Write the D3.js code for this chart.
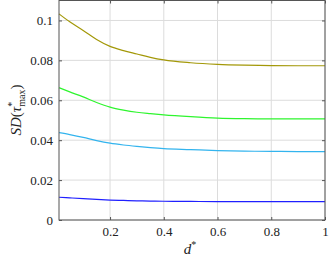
<!DOCTYPE html>
<html><head><meta charset="utf-8">
<script src="https://cdn.jsdelivr.net/npm/d3@7"></script>
<style>body{margin:0;background:#fff}svg{display:block}</style>
</head><body><svg id="c" width="333" height="260"></svg>
<script>
const xs = [0.01, 0.05, 0.1, 0.15, 0.2, 0.25, 0.3, 0.35, 0.4, 0.5, 0.6, 0.7, 0.8, 0.9, 1.0];
const olive = [0.1033, 0.0993, 0.0950, 0.0905, 0.0870, 0.0849, 0.0832, 0.0815, 0.0802, 0.0788, 0.0780, 0.0776, 0.0774, 0.0773, 0.0773];
const green = [0.0663, 0.0642, 0.0617, 0.0589, 0.0566, 0.0551, 0.0540, 0.0533, 0.0527, 0.0518, 0.0511, 0.0508, 0.0507, 0.0507, 0.0507];
const cyan  = [0.0438, 0.0428, 0.0414, 0.0398, 0.0385, 0.0376, 0.0369, 0.0363, 0.0358, 0.0353, 0.0348, 0.0345, 0.0344, 0.0343, 0.0343];
const blue  = [0.0114, 0.0111, 0.0107, 0.0103, 0.0100, 0.0098, 0.0096, 0.0095, 0.0094, 0.0093, 0.0092, 0.0092, 0.0092, 0.0092, 0.0092];
const xTicks = [0.2, 0.4, 0.6, 0.8, 1];
const yTicks = [0, 0.02, 0.04, 0.06, 0.08, 0.1];
const series = [
  {vals: olive, color: "#a39808"},
  {vals: green, color: "#2ef52e"},
  {vals: cyan,  color: "#33b4ee"},
  {vals: blue,  color: "#2020ff"}
];

const FONT = '"Liberation Serif"';
const svg = d3.select("#c").style("font-family", FONT);
const L = 59, R = 325, T = 0.5, B = 220;
const x = d3.scaleLinear().domain([0.01, 1]).range([L, R]);
const y = d3.scaleLinear().domain([0, 0.11]).range([B, T]);

const g = svg.append("g");
g.selectAll(".gx").data(xTicks).enter().append("line")
  .attr("x1", d => x(d)).attr("x2", d => x(d)).attr("y1", T).attr("y2", B)
  .attr("stroke", "#dcdcdc").attr("stroke-width", 1);
g.selectAll(".gy").data(yTicks).enter().append("line")
  .attr("x1", L).attr("x2", R).attr("y1", d => y(d)).attr("y2", d => y(d))
  .attr("stroke", "#dcdcdc").attr("stroke-width", 1);

const line = d3.line().x((d, i) => x(xs[i])).y(d => y(d)).curve(d3.curveMonotoneX);
series.forEach(s => {
  g.append("path").attr("d", line(s.vals)).attr("fill", "none")
    .attr("stroke", s.color).attr("stroke-width", 1.2);
});

const ax = g.append("g").attr("transform", `translate(0,${B})`)
  .call(d3.axisBottom(x).tickValues(xTicks).tickSize(-3).tickPadding(7).tickFormat(d3.format("")));
const ay = g.append("g").attr("transform", `translate(${L},0)`)
  .call(d3.axisLeft(y).tickValues(yTicks).tickSize(-3).tickPadding(6).tickFormat(d => d === 0 ? "0" : d3.format("")(d)));
const axT = g.append("g").attr("transform", `translate(0,${T})`)
  .call(d3.axisTop(x).tickValues(xTicks).tickSize(-3).tickFormat(""));
const ayR = g.append("g").attr("transform", `translate(${R},0)`)
  .call(d3.axisRight(y).tickValues(yTicks).tickSize(-3).tickFormat(""));
[ax, ay, axT, ayR].forEach(a => {
  a.attr("font-family", "Liberation Serif").style("font-family", FONT);
  a.select(".domain").remove();
  a.selectAll("line").attr("stroke", "#555");
  a.selectAll("text").style("font-family", FONT).style("font-size", "13px").attr("fill", "#222");
});
g.append("rect").attr("x", L).attr("y", T).attr("width", R - L).attr("height", B - T)
  .attr("fill", "none").attr("stroke", "#555").attr("stroke-width", 1);

const xl = svg.append("text").attr("x", 190).attr("y", 254).attr("text-anchor", "middle")
  .style("font-family", FONT).style("font-size", "15px").attr("fill", "#222");
xl.append("tspan").style("font-style", "italic").text("d");
xl.append("tspan").attr("dy", -6).style("font-size", "10px").text("*");
const yl = svg.append("text").attr("transform", "translate(21,110) rotate(-90)").attr("text-anchor", "middle")
  .style("font-family", FONT).style("font-size", "15px").attr("fill", "#222");
yl.append("tspan").style("font-style", "italic").text("SD");
yl.append("tspan").text("(");
yl.append("tspan").style("font-style", "italic").text("τ");
yl.append("tspan").style("font-size", "10px").attr("dy", -6).text("*");
yl.append("tspan").style("font-size", "10px").attr("dy", 10).attr("dx", -5).text("max");
yl.append("tspan").attr("dy", -4).text(")");
</script></body></html>
